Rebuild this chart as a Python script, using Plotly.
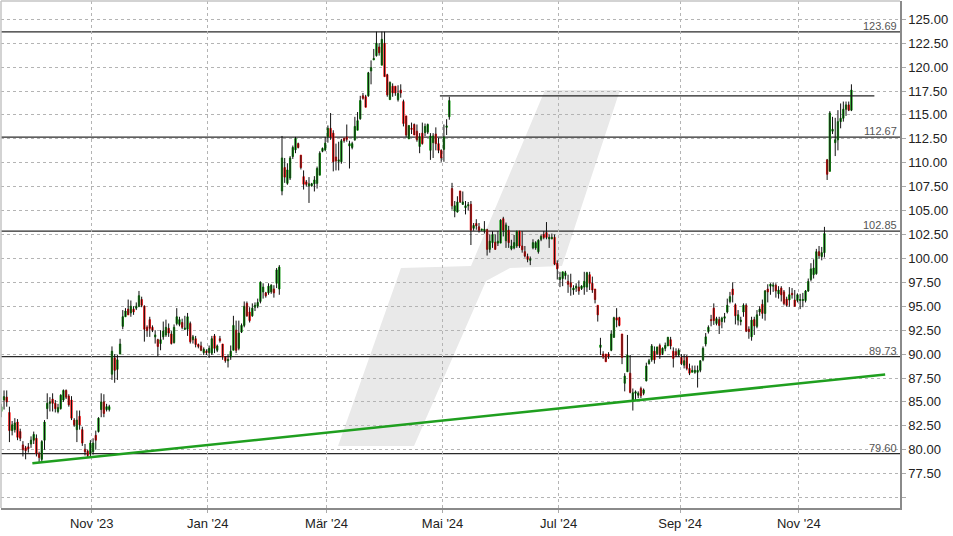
import plotly.graph_objects as go
import pandas as pd

# ---------------- data ----------------
first_day = "2023-09-14"

opens = [
    84.0, 85.2, 85.5, 83.9, 82.0, 82.1, 82.9, 81.9, 80.5, 80.2, 80.3, 80.6, 81.0, 81.2, 79.6, 79.0, 81.0, 84.3, 84.85, 85.3,
    84.85, 84.0, 84.3, 85.2, 86.2, 85.6, 85.2, 83.1, 82.1, 83.5, 82.1, 80.05, 79.85, 79.6, 79.8, 81.5, 81.9, 84.2, 85.0, 84.2, 84.2,
    87.9, 89.6, 88.4, 90.0, 92.9, 93.9, 94.7, 94.3, 94.7, 94.8, 95.0, 95.7, 95.0, 92.8, 93.6, 92.8, 91.8, 91.5, 91.1, 91.8,
    92.0, 92.7, 92.1, 91.2, 93.2, 93.1, 93.3, 92.6, 92.6, 93.2, 91.5, 91.6, 91.0, 90.85, 90.15, 90.3, 90.15, 90.1, 91.9, 90.4,
    91.6, 91.05, 89.7, 89.3, 89.7, 90.4, 92.5, 90.6, 92.3, 93.0, 95.3, 94.4, 94.0, 94.9, 95.0, 95.5, 96.5, 96.4, 96.4, 96.5,
    96.8, 97.4, 96.8,
    107.05, 109.5, 107.85, 108.4, 110.65, 111.35, 112.0, 110.8, 108.55, 108.0, 107.6, 107.6, 107.8, 107.85, 108.7, 111.2,
    111.35, 112.7, 113.6, 113.1, 110.6, 110.15, 110.1, 112.55, 112.7, 111.75, 111.6, 112.4, 113.4, 114.6, 117.0, 116.9, 117.0,
    119.6, 120.75, 121.2, 122.1, 120.2, 122.5, 119.2, 116.6, 118.0, 118.0, 116.6, 117.6, 116.4, 114.9, 112.5, 113.6, 114.0,
    113.3, 111.7, 113.1, 113.15, 113.2, 111.3, 112.1, 113.0, 112.0, 111.3, 111.4, 113.7, 114.8,
    107.3, 104.95, 104.85, 107.05, 105.65, 105.3, 105.5, 105.65, 103.15, 103.65, 103.3, 102.95, 102.9, 103.0, 100.95, 101.65,
    101.7, 101.6, 101.6, 104.15, 101.85, 102.95, 101.0, 101.1, 101.3, 102.85, 101.3, 100.7, 100.2, 99.8, 101.1, 101.1, 100.7,
    102.0, 102.5, 102.7, 102.05, 102.05, 102.2, 99.5,
    97.8, 97.9, 98.2, 97.6, 97.45, 96.7, 96.9, 97.0, 96.85, 97.0, 97.0, 98.3, 97.4, 96.8, 95.1, 90.7, 90.0, 90.0, 90.0, 90.4,
    91.75, 93.8, 93.8, 92.1, 86.95, 88.15, 88.0, 85.1, 85.9, 85.7, 86.4, 85.9, 87.2, 89.0, 89.4, 90.3, 90.05, 90.9, 90.05, 90.6,
    90.85, 91.5, 90.3, 90.25, 89.9, 89.65, 88.85, 89.7, 88.5, 88.1, 88.1, 88.1, 88.3, 89.4, 91.05, 92.35, 93.6, 94.8, 93.2,
    93.6, 93.4, 93.75, 94.4, 95.5, 96.8, 95.15, 93.55, 93.4, 94.4, 95.1, 92.6, 91.8, 93.6, 92.9, 94.4, 95.2, 94.25, 96.8, 97.1,
    97.1, 97.2, 96.3, 96.9, 96.5, 95.75, 95.65, 96.35, 95.65, 95.6, 95.6, 95.6, 95.6,
    96.6, 97.8, 98.3, 98.4, 100.7, 100.2, 100.6,
    110.3, 109.1, 113.3, 112.1, 112.4, 114.3, 114.65, 115.6, 116.05, 115.5,
]

highs = [
    84.8, 86.2, 86.2, 84.5, 83.0, 83.3, 83.2, 82.2, 80.9, 80.4, 80.7, 81.4, 81.9, 81.6, 79.8, 81.0, 83.1, 85.9, 85.5, 85.9,
    85.2, 84.8, 85.8, 86.3, 86.3, 85.8, 85.6, 83.3, 84.1, 84.1, 82.4, 80.6, 80.0, 81.0, 81.2, 82.0, 83.4, 85.9, 85.8, 84.8, 84.7,
    90.8, 90.0, 89.9, 91.6, 94.6, 94.8, 95.7, 95.6, 95.0, 95.4, 96.6, 96.0, 95.1, 93.0, 93.9, 93.0, 92.5, 91.6, 92.5, 93.4,
    93.6, 93.2, 92.4, 93.1, 94.8, 93.9, 93.7, 94.0, 94.3, 93.4, 92.0, 91.9, 91.1, 91.3, 90.7, 90.5, 90.9, 91.9, 92.1, 91.0,
    91.9, 91.05, 89.8, 90.0, 90.9, 94.0, 93.5, 93.5, 93.2, 95.5, 95.5, 94.9, 95.3, 95.4, 95.8, 97.6, 97.4, 96.5, 97.4, 97.3,
    97.2, 99.0, 99.3,
    112.8, 110.5, 109.95, 110.7, 111.8, 112.7, 112.1, 110.8, 109.2, 108.2, 108.5, 107.9, 108.6, 109.6, 111.2, 111.6,
    112.7, 113.9, 115.2, 113.4, 112.0, 112.2, 112.5, 112.6, 114.0, 112.3, 112.2, 114.8, 115.3, 117.0, 117.3, 117.1, 119.5,
    120.7, 121.9, 123.7, 122.5, 123.7, 123.7, 119.3, 118.5, 118.3, 118.0, 118.1, 118.2, 116.6, 114.9, 113.9, 114.2, 114.1,
    114.0, 113.1, 114.2, 114.1, 114.1, 113.1, 113.1, 113.7, 112.6, 111.4, 114.0, 114.55, 116.9,
    107.9, 106.0, 106.5, 107.05, 107.0, 106.0, 105.9, 106.0, 103.7, 104.1, 103.7, 103.1, 103.9, 103.1, 102.5, 102.85,
    102.5, 102.85, 104.1, 104.35, 103.75, 103.4, 101.95, 102.45, 102.9, 102.9, 102.85, 101.3, 100.5, 100.2, 102.0, 101.8, 102.0,
    102.5, 102.85, 103.8, 102.5, 102.6, 102.5, 99.8,
    98.6, 98.6, 98.7, 98.3, 98.4, 97.2, 97.4, 97.7, 97.2, 98.6, 98.6, 98.6, 98.1, 96.8, 95.1, 91.7, 90.3, 90.0, 90.2, 92.5,
    93.9, 94.8, 93.9, 92.1, 88.0, 92.0, 89.9, 86.4, 86.2, 86.1, 86.6, 86.4, 89.1, 89.5, 91.05, 90.8, 90.75, 91.1, 90.7, 91.2,
    91.8, 91.8, 90.7, 90.6, 90.6, 90.0, 90.0, 89.9, 89.0, 88.8, 88.8, 88.8, 89.35, 90.8, 92.2, 93.0, 94.1, 95.3, 93.9,
    93.9, 93.9, 94.3, 95.8, 96.5, 97.5, 95.3, 94.6, 93.9, 95.3, 95.3, 92.9, 93.9, 93.9, 94.6, 95.0, 95.7, 96.7, 97.3, 97.4,
    97.5, 97.4, 97.1, 97.1, 96.7, 96.0, 97.0, 96.9, 96.7, 96.35, 96.3, 96.4, 96.7,
    97.9, 99.5, 99.9, 101.0, 101.3, 101.2, 103.3,
    110.4, 115.4, 114.8, 114.7, 115.5, 116.2, 116.4, 116.4, 116.4, 118.2,
]

lows = [
    83.4, 84.2, 84.5, 80.8, 81.5, 81.8, 81.0, 80.9, 79.3, 79.0, 79.7, 80.2, 80.6, 79.3, 78.7, 78.7, 80.0, 83.2, 84.0, 84.0,
    83.9, 83.8, 84.2, 85.0, 85.3, 84.5, 83.1, 82.4, 80.8, 82.1, 80.4, 79.4, 79.2, 79.3, 79.5, 80.0, 81.8, 83.4, 83.4, 84.0, 84.0,
    87.3, 87.0, 87.3, 90.0, 92.6, 93.9, 94.1, 93.9, 94.1, 94.6, 94.9, 94.9, 91.3, 91.8, 91.8, 92.3, 91.1, 89.8, 90.4, 91.5,
    91.8, 91.8, 91.0, 91.1, 93.0, 92.9, 92.6, 92.5, 91.9, 91.1, 91.1, 90.7, 90.6, 90.3, 89.9, 89.9, 89.6, 89.9, 90.1, 90.2,
    91.2, 89.4, 89.1, 88.6, 89.4, 90.4, 90.1, 90.4, 92.2, 92.8, 93.9, 93.3, 93.9, 94.5, 94.8, 95.3, 95.8, 95.9, 96.2, 96.3,
    95.9, 96.9, 96.2,
    106.6, 107.9, 107.7, 108.2, 110.4, 111.0, 111.5, 109.3, 107.2, 107.5, 105.8, 107.5, 107.0, 107.3, 108.7, 111.1,
    111.2, 112.1, 112.4, 109.1, 109.2, 109.2, 109.9, 112.1, 112.2, 109.4, 111.4, 112.3, 113.4, 114.5, 116.6, 115.8, 116.9,
    118.2, 120.75, 121.1, 121.2, 120.2, 119.0, 116.9, 116.6, 116.9, 117.0, 116.4, 116.8, 113.8, 112.7, 112.5, 113.0, 112.9,
    112.2, 111.0, 111.9, 112.8, 113.0, 110.3, 110.5, 111.3, 111.0, 110.1, 110.1, 112.9, 114.5,
    105.1, 104.3, 104.8, 105.8, 105.6, 104.6, 105.0, 101.4, 102.9, 103.0, 102.7, 102.9, 102.6, 100.3, 100.6, 101.1,
    100.9, 101.3, 101.6, 102.3, 101.1, 101.1, 100.85, 100.95, 101.1, 101.1, 100.6, 100.1, 99.6, 99.3, 100.95, 100.9, 100.5,
    101.8, 102.0, 102.0, 101.1, 102.0, 99.3, 97.8,
    97.0, 97.1, 97.8, 96.4, 96.1, 96.2, 96.5, 96.2, 96.7, 96.2, 96.5, 96.7, 96.4, 95.3, 93.4, 89.9, 89.5, 89.2, 89.5, 90.3,
    91.7, 92.8, 92.9, 88.95, 86.1, 88.15, 85.9, 84.1, 85.2, 85.4, 85.4, 85.7, 87.15, 88.9, 89.2, 89.0, 89.9, 89.5, 89.9, 90.3,
    90.85, 90.5, 88.6, 89.7, 89.7, 88.85, 88.5, 88.3, 87.8, 88.1, 87.95, 86.5, 88.1, 89.25, 90.8, 92.15, 92.9, 93.05, 93.0,
    92.1, 92.7, 93.3, 94.25, 95.3, 95.4, 93.1, 93.0, 93.0, 93.9, 92.3, 91.6, 91.4, 92.0, 92.7, 94.0, 93.7, 93.5, 95.4, 96.2,
    96.5, 95.9, 95.8, 95.5, 95.1, 94.95, 94.95, 95.8, 94.95, 95.4, 94.7, 94.9, 95.4,
    96.5, 97.6, 97.9, 98.3, 100.0, 99.8, 100.1,
    108.2, 109.1, 113.0, 110.7, 111.3, 113.6, 114.3, 114.9, 115.4, 115.4,
]

closes = [
    84.5, 85.55, 85.0, 82.0, 82.6, 82.8, 81.3, 81.2, 80.0, 79.9, 80.1, 81.0, 81.6, 79.6, 79.2, 80.85, 82.9, 84.85, 85.0, 84.85,
    84.3, 84.4, 85.7, 86.2, 85.5, 84.7, 83.3, 82.6, 83.1, 82.6, 80.7, 79.8, 79.4, 80.7, 80.7, 81.0, 83.3, 85.0, 83.8, 84.5, 84.5,
    90.3, 88.3, 89.4, 91.05, 93.9, 94.5, 94.1, 95.0, 94.4, 95.0, 96.1, 95.1, 92.6, 92.45, 92.7, 92.5, 92.0, 90.8, 91.5, 92.4,
    92.8, 92.2, 91.1, 92.8, 93.9, 93.6, 92.8, 92.7, 93.9, 91.3, 91.8, 91.0, 90.8, 90.4, 90.5, 90.15, 90.6, 91.6, 90.6, 90.85,
    91.4, 89.7, 89.3, 89.45, 90.3, 93.0, 90.4, 92.2, 93.0, 95.0, 94.0, 93.5, 94.8, 95.1, 95.4, 97.5, 97.0, 96.1, 97.1, 97.2,
    96.4, 98.8, 99.1,
    110.5, 108.5, 109.25, 110.5, 111.6, 112.55, 111.6, 109.5, 107.75, 107.75, 107.8, 107.8, 108.2, 109.4, 111.0, 111.5,
    112.05, 113.6, 112.7, 110.1, 110.2, 110.3, 112.3, 112.3, 112.45, 112.0, 112.0, 113.8, 114.4, 116.5, 116.75, 115.8, 119.4,
    119.95, 120.9, 122.5, 121.5, 122.9, 119.0, 117.1, 118.4, 117.3, 117.3, 117.25, 117.3, 114.1, 112.9, 113.9, 113.5, 112.9,
    112.4, 112.7, 112.0, 113.8, 114.0, 112.8, 112.8, 112.0, 111.3, 110.5, 112.7, 113.85, 116.5,
    105.5, 105.5, 105.9, 105.9, 105.9, 105.5, 105.6, 102.95, 103.45, 103.4, 102.95, 103.05, 103.05, 100.95, 101.8, 102.5,
    100.95, 101.8, 104.0, 102.95, 103.5, 101.65, 101.3, 101.65, 102.85, 101.3, 100.9, 100.25, 99.9, 99.95, 101.65, 101.65, 101.9,
    102.3, 102.2, 102.2, 102.2, 102.2, 99.4, 98.9,
    98.0, 98.6, 98.5, 97.3, 97.0, 96.9, 97.1, 96.6, 97.1, 97.6, 98.5, 97.4, 96.7, 95.7, 94.1, 90.95, 89.7, 89.2, 89.75, 92.1,
    93.8, 93.55, 93.0, 89.65, 87.7, 89.9, 86.0, 85.95, 86.05, 85.9, 85.65, 86.25, 88.75, 89.3, 90.85, 89.4, 90.75, 89.9, 90.6, 90.9,
    91.75, 90.85, 89.55, 89.9, 90.4, 89.0, 89.3, 88.5, 88.0, 88.3, 88.3, 88.3, 89.3, 90.6, 91.8, 92.8, 93.5, 93.5, 93.7,
    93.0, 93.75, 93.9, 95.1, 96.0, 96.2, 94.0, 94.1, 93.55, 95.1, 92.4, 92.35, 93.55, 92.95, 94.1, 94.7, 94.25, 96.6, 96.5, 97.3,
    97.2, 96.6, 96.7, 96.2, 95.3, 95.1, 96.2, 96.2, 95.0, 96.2, 95.7, 95.7, 96.6,
    97.6, 98.9, 99.0, 100.7, 100.3, 100.6, 102.6,
    108.8, 115.2, 113.5, 112.4, 114.3, 114.65, 115.6, 116.05, 115.5, 117.6,
]

levels = [123.69, 112.67, 102.85, 89.73, 79.60]
resist_level = 117.0
resist_dates = ["2024-04-30", "2024-12-11"]
trend_dates = ["2023-10-02", "2024-12-17"]
trend_values = [78.58, 87.87]

month_ticks = ["2023-11-01", "2024-01-01", "2024-03-01", "2024-05-01", "2024-07-01", "2024-09-02", "2024-11-01"]
month_labels = ["Nov '23", "Jan '24", "Mär '24", "Mai '24", "Jul '24", "Sep '24", "Nov '24"]
y_ticks = [75.0, 77.5, 80.0, 82.5, 85.0, 87.5, 90.0, 92.5, 95.0, 97.5, 100.0, 102.5,
           105.0, 107.5, 110.0, 112.5, 115.0, 117.5, 120.0, 122.5, 125.0]

assert len(opens) == len(highs) == len(lows) == len(closes)

# ---------------- styling ----------------
GREEN = "#149a14"
RED = "#ff1414"
TREND = "#1f9f1f"
GRID = "#b4b4b4"
FONT = "Liberation Sans, Arial, sans-serif"

W, H = 953, 536
ML, MR, MT, MB = 1, 53, 1, 28
PW, PH = W - ML - MR, H - MT - MB


def paper(px, py):
    return (px - ML) / PW, (H - MB - py) / PH


dates = pd.bdate_range(first_day, periods=len(closes)) + pd.Timedelta(hours=12)

wick_x, wick_y = [], []
for d, h, l in zip(dates, highs, lows):
    wick_x += [d, d, None]
    wick_y += [l, h, None]

body_hi = [max(o, c) for o, c in zip(opens, closes)]
body_lo = [min(o, c) for o, c in zip(opens, closes)]

fig = go.Figure()
fig.add_trace(go.Scatter(x=wick_x, y=wick_y, mode="lines",
                         line=dict(color="#111111", width=1), hoverinfo="skip"))
fig.add_trace(go.Candlestick(
    x=dates, open=opens, high=body_hi, low=body_lo, close=closes,
    increasing=dict(line=dict(color=GREEN, width=1), fillcolor=GREEN),
    decreasing=dict(line=dict(color=RED, width=1), fillcolor=RED),
    whiskerwidth=0, hoverinfo="skip"))
fig.add_trace(go.Scatter(x=trend_dates, y=trend_values, mode="lines",
                         line=dict(color=TREND, width=2.6), hoverinfo="skip"))
fig.add_trace(go.Scatter(x=resist_dates, y=[resist_level, resist_level], mode="lines",
                         line=dict(color="#222222", width=1.2), hoverinfo="skip"))

shapes = []
# watermark
wm_pts = [(545, 90), (620, 90), (562, 266), (510, 268), (486, 281), (414, 446),
          (338, 446), (401, 268), (471, 266)]
path = "M " + " L ".join("{:.4f},{:.4f}".format(*paper(x, y)) for x, y in wm_pts) + " Z"
shapes.append(dict(type="path", path=path, xref="paper", yref="paper",
                   fillcolor="#e9e9e9", line=dict(width=0), layer="below"))
# level lines
for lv in levels:
    shapes.append(dict(type="line", xref="paper", yref="y", x0=0, x1=1, y0=lv, y1=lv,
                       line=dict(color="#2a2a2a", width=1.2), layer="between"))
# top / left frame
shapes.append(dict(type="line", xref="paper", yref="paper", x0=0, x1=1, y0=1, y1=1,
                   line=dict(color="#c4c4c4", width=1.5)))
shapes.append(dict(type="line", xref="paper", yref="paper", x0=0, x1=0, y0=0, y1=1,
                   line=dict(color="#c4c4c4", width=1.5)))

annotations = []
for lv in levels:
    annotations.append(dict(x=1, xref="paper", y=lv, yref="y", text="{:.2f}".format(lv),
                            showarrow=False, xanchor="right", yanchor="bottom", xshift=-1, yshift=-2,
                            font=dict(family=FONT, size=11, color="#555555")))

x_start = "2023-09-14 09:00"
x_end = "2024-12-24 12:00"

fig.update_layout(
    width=W, height=H,
    margin=dict(l=ML, r=MR, t=MT, b=MB),
    paper_bgcolor="white", plot_bgcolor="white",
    showlegend=False,
    font=dict(family=FONT, size=13, color="#222222"),
    shapes=shapes, annotations=annotations,
    xaxis=dict(type="date", range=[x_start, x_end],
               rangebreaks=[dict(bounds=["sat", "mon"])],
               tickvals=month_ticks, ticktext=month_labels,
               showgrid=True, gridcolor=GRID, griddash="3px,3px", gridwidth=1,
               ticks="outside", ticklen=3, tickcolor="#aaaaaa",
               showline=True, linecolor="#8a8a8a", linewidth=1.5,
               zeroline=False, rangeslider=dict(visible=False)),
    yaxis=dict(side="right", range=[73.91, 126.91],
               tickvals=y_ticks,
               ticktext=["" if v == 75.0 else "{:.2f}".format(v) for v in y_ticks],
               showgrid=True, gridcolor=GRID, griddash="3px,3px", gridwidth=1,
               ticks="outside", ticklen=4, tickcolor="#aaaaaa",
               showline=True, linecolor="#8a8a8a", linewidth=1.5,
               zeroline=False),
)

fig.write_html("out.html", config={"displayModeBar": False},
               post_script="document.body.style.margin='0px';document.body.style.padding='0px';")
